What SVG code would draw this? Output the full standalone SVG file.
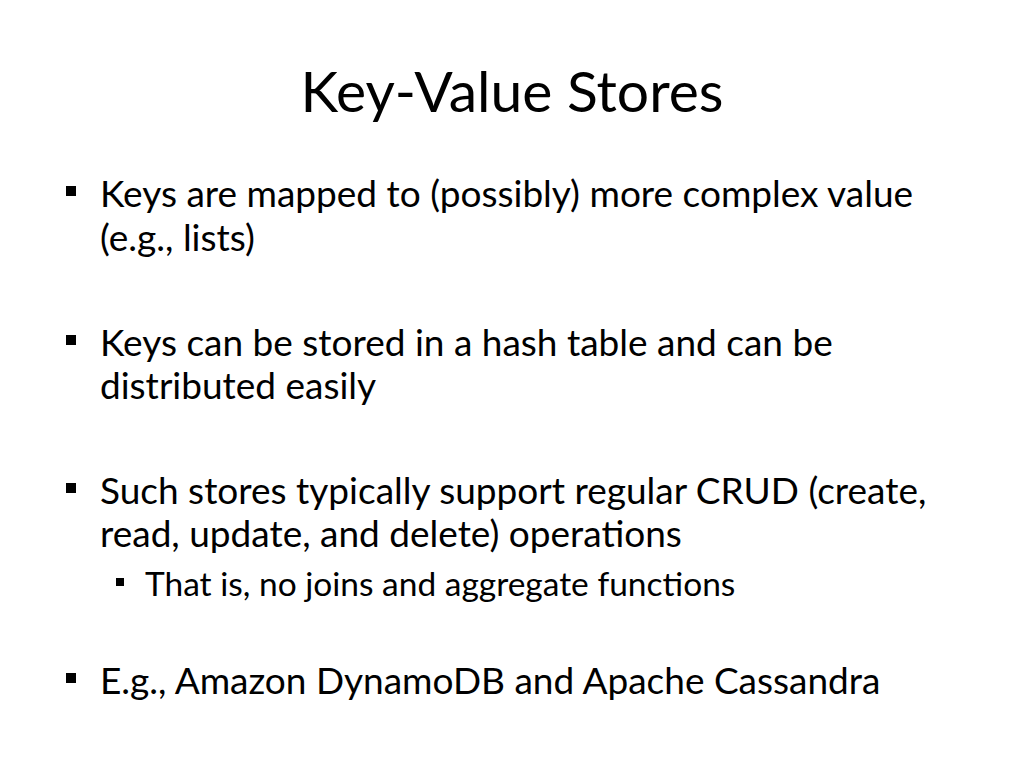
<svg xmlns="http://www.w3.org/2000/svg" width="1024" height="768" viewBox="0 0 1024 768">
<style>
.t{font-family:Lato,"Open Sans",sans-serif;fill:#000}
.b{font-size:37px}
.s{font-size:33.5px}
</style>
<rect width="1024" height="768" fill="#fff"/>
<text class="t" x="512" y="112" font-size="57" text-anchor="middle">Key-Value Stores</text>
<g fill="#000">
<rect x="66" y="186" width="10" height="10"/>
<rect x="66" y="335" width="10" height="10"/>
<rect x="66" y="483" width="10" height="10"/>
<rect x="116" y="578" width="8" height="8"/>
<rect x="66" y="673" width="10" height="10"/>
</g>
<text class="t b" x="100" y="207">Keys are mapped to (possibly) more complex value</text>
<text class="t b" x="100" y="251">(e.g., lists)</text>
<text class="t b" x="100" y="356">Keys can be stored in a hash table and can be</text>
<text class="t b" x="100" y="399">distributed easily</text>
<text class="t b" x="100" y="504">Such stores typically support regular CRUD (create,</text>
<text class="t b" x="100" y="547">read, update, and delete) operations</text>
<text class="t s" x="145" y="596">That is, no joins and aggregate functions</text>
<text class="t b" x="100" y="694">E.g., Amazon DynamoDB and Apache Cassandra</text>
</svg>
